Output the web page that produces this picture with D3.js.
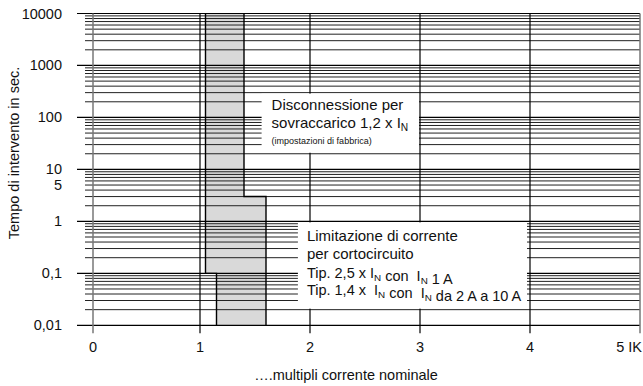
<!DOCTYPE html>
<html>
<head>
<meta charset="utf-8">
<script src="https://cdn.jsdelivr.net/npm/d3@7"></script>
<style>
  body { margin: 0; background: #fff; }
  svg { display: block; font-family: "Liberation Sans", Arial, sans-serif; }
</style>
</head>
<body>
<div id="chart"></div>
<script>
// tick values and labels
var yTicks = [0.01, 0.1, 1, 5, 10, 100, 1000, 10000];
var yTickLabels = ["0,01", "0,1", "1", "5", "10", "100", "1000", "10000"];
var xTicks = [0, 1, 2, 3, 4, 5];
var xTickLabels = ["0", "1", "2", "3", "4", "5 IK"];

// trip band: left and right boundary (multiple of In, time in s)
var lowerX = [1.05, 1.05, 1.15, 1.15];
var lowerT = [10000, 0.1, 0.1, 0.01];
var upperX = [1.4, 1.4, 1.6, 1.6];
var upperT = [10000, 3, 3, 0.01];

var W = 643, H = 386;
var svg = d3.select("#chart").append("svg").attr("width", W).attr("height", H);

var x = d3.scaleLinear().domain([0, 1, 5]).range([93, 200, 640]);
var y = d3.scaleLog().domain([0.01, 10000]).range([325.3, 13.5]);

// shaded band
var band = lowerX.map(function (v, i) { return [x(v), y(lowerT[i])]; })
  .concat(upperX.map(function (v, i) { return [x(v), y(upperT[i])]; }).reverse());
svg.append("path")
  .attr("d", "M" + band.join("L") + "Z")
  .attr("fill", "#d9d9d9");

// horizontal grid (decades + 2..9)
var minor = [];
for (var e = -2; e < 4; e++) {
  for (var m = 2; m <= 9; m++) minor.push(m * Math.pow(10, e));
}
var decades = [0.01, 0.1, 1, 10, 100, 1000, 10000];

svg.append("g").selectAll("line").data(minor).enter().append("line")
  .attr("x1", 85).attr("x2", x(5))
  .attr("y1", function (d) { return y(d); })
  .attr("y2", function (d) { return y(d); })
  .attr("stroke", "#222").attr("stroke-width", 1);

svg.append("g").selectAll("line").data(decades).enter().append("line")
  .attr("x1", 77).attr("x2", x(5))
  .attr("y1", function (d) { return y(d); })
  .attr("y2", function (d) { return y(d); })
  .attr("stroke", "#000").attr("stroke-width", 1.2);

// vertical grid
svg.append("g").selectAll("line").data(xTicks).enter().append("line")
  .attr("x1", function (d) { return x(d); })
  .attr("x2", function (d) { return x(d); })
  .attr("y1", y(10000)).attr("y2", y(0.01) + 8)
  .attr("stroke", function (d) { return (d == 0 || d == 5) ? "#777" : "#000"; })
  .attr("stroke-width", function (d) { return (d == 0 || d == 5) ? 1.5 : 1.2; });

// band outline
var bandLine = d3.line().x(function (d) { return x(d[0]); }).y(function (d) { return y(d[1]); });
svg.append("path")
  .attr("d", bandLine(lowerX.map(function (v, i) { return [v, lowerT[i]]; })))
  .attr("fill", "none").attr("stroke", "#000").attr("stroke-width", 1.4);
svg.append("path")
  .attr("d", bandLine(upperX.map(function (v, i) { return [v, upperT[i]]; })))
  .attr("fill", "none").attr("stroke", "#000").attr("stroke-width", 1.4);

// white annotation boxes
var box1 = { x0: x(1.56), x1: x(3) - 1, y0: y(300) + 1, y1: y(20) - 1 };
var box2 = { x0: x(1.89), x1: x(4) - 3, y0: y(1) + 1, y1: y(0.02) - 1 };
[box1, box2].forEach(function (b) {
  svg.append("rect")
    .attr("x", b.x0).attr("y", b.y0)
    .attr("width", b.x1 - b.x0).attr("height", b.y1 - b.y0)
    .attr("fill", "#fff");
});

// y tick labels
svg.append("g").selectAll("text").data(yTicks).enter().append("text")
  .attr("x", 62)
  .attr("y", function (d) { return y(d) + 5; })
  .attr("text-anchor", "end")
  .attr("font-size", 14.5)
  .attr("fill", "#111")
  .text(function (d, i) { return yTickLabels[i]; });

// x tick labels
svg.append("g").selectAll("text").data(xTicks).enter().append("text")
  .attr("x", function (d) { return d == 5 ? 642 : x(d); })
  .attr("y", 352)
  .attr("text-anchor", function (d) { return d == 5 ? "end" : "middle"; })
  .attr("font-size", 14.5)
  .attr("fill", "#111")
  .text(function (d, i) { return xTickLabels[i]; });

// axis titles
svg.append("text")
  .attr("transform", "translate(19,153) rotate(-90)")
  .attr("text-anchor", "middle")
  .attr("font-size", 14.5)
  .attr("fill", "#111")
  .text("Tempo di intervento in sec.");

svg.append("text")
  .attr("x", 346).attr("y", 380)
  .attr("text-anchor", "middle")
  .attr("font-size", 14.5)
  .attr("fill", "#111")
  .text("\u2026.multipli corrente nominale");

// helper for lines with subscript N ({s: "N"} marks a subscript)
function richLine(parent, tx, ty, size, parts) {
  var t = parent.append("text")
    .attr("x", tx).attr("y", ty)
    .attr("font-size", size)
    .attr("fill", "#111")
    .style("white-space", "pre");
  parts.forEach(function (p) {
    if (typeof p !== "string") {
      t.append("tspan").attr("font-size", size * 0.68).attr("dy", 3).text(p.s);
      t.append("tspan").attr("dy", -3).text("");
    } else {
      t.append("tspan").text(p);
    }
  });
  return t;
}

var ann = svg.append("g");
var bx1 = box1.x0 + 10;
richLine(ann, bx1, box1.y0 + 16, 15, ["Disconnessione per"]);
richLine(ann, bx1, box1.y0 + 34, 15, ["sovraccarico 1,2 x I", { s: "N" }]);
richLine(ann, bx1, box1.y0 + 50, 9, ["(impostazioni di fabbrica)"]);

var bx2 = box2.x0 + 9;
richLine(ann, bx2, box2.y0 + 19, 15, ["Limitazione di corrente"]);
richLine(ann, bx2, box2.y0 + 37, 15, ["per cortocircuito"]);
richLine(ann, bx2, box2.y0 + 56, 14.5, ["Tip. 2,5 x I", { s: "N" }, " con  I", { s: "N" }, " 1 A"]);
richLine(ann, bx2, box2.y0 + 73, 14.5, ["Tip. 1,4 x  I", { s: "N" }, " con  I", { s: "N" }, " da 2 A a 10 A"]);
</script>
</body>
</html>
